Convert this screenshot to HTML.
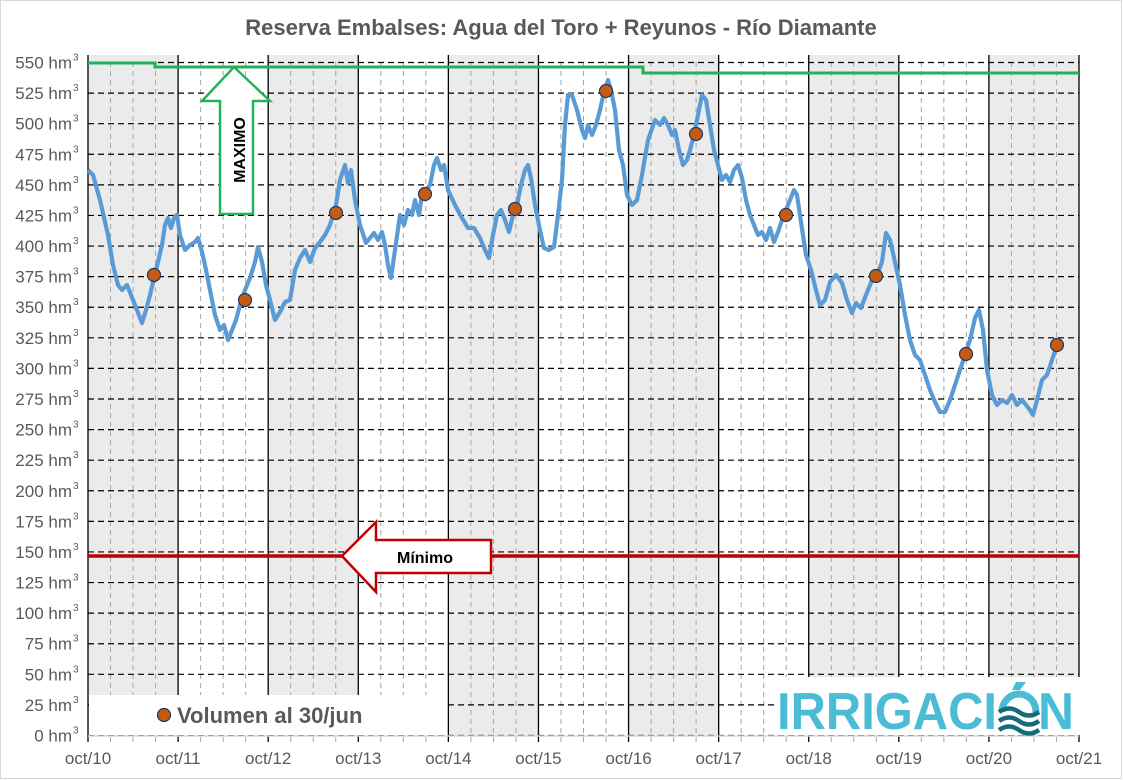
<!DOCTYPE html>
<html><head><meta charset="utf-8"><style>
body{margin:0;background:#fff}
svg{display:block;font-family:"Liberation Sans",sans-serif}
</style></head><body>
<svg width="1123" height="780" viewBox="0 0 1123 780" xmlns="http://www.w3.org/2000/svg">
<rect x="0.5" y="0.5" width="1121" height="778" fill="#fff" stroke="#d9d9d9"/>
<text x="561" y="35" text-anchor="middle" font-size="22" font-weight="bold" fill="#595959">Reserva Embalses: Agua del Toro + Reyunos - Río Diamante</text>
<g fill="#ebebeb">
<rect x="88" y="55" width="90" height="681"/>
<rect x="268" y="55" width="90" height="681"/>
<rect x="448" y="55" width="90" height="681"/>
<rect x="628" y="55" width="90" height="681"/>
<rect x="808" y="55" width="90" height="681"/>
<rect x="988" y="55" width="91" height="681"/>
</g>
<g id="grid"></g>
<script>
(function(){
var ns="http://www.w3.org/2000/svg",g=document.getElementById('grid');
function ln(x1,y1,x2,y2,st,w,da){var l=document.createElementNS(ns,'line');l.setAttribute('x1',x1);l.setAttribute('y1',y1);l.setAttribute('x2',x2);l.setAttribute('y2',y2);l.setAttribute('stroke',st);l.setAttribute('stroke-width',w);if(da)l.setAttribute('stroke-dasharray',da);g.appendChild(l);}
var step=991/11;
for(var i=0;i<11;i++){for(var k=1;k<4;k++){var x=88+step*i+step*k/4;ln(x,62,x,742,'#a6a6a6',1,'5,4');}}
for(var j=0;j<=22;j++){var y=735.5-j*673/22;ln(88,y,1079,y,'#000',1.2,'6,4');
var t=document.createElementNS(ns,'text');t.setAttribute('x',72);t.setAttribute('y',y+6);t.setAttribute('text-anchor','end');t.setAttribute('font-size','17');t.setAttribute('fill','#595959');t.textContent=(j*25)+' hm';g.appendChild(t);
var s=document.createElementNS(ns,'text');s.setAttribute('x',73);s.setAttribute('y',y-2);s.setAttribute('font-size','10');s.setAttribute('fill','#595959');s.textContent='3';g.appendChild(s);}
for(var i=0;i<=11;i++){var x=88+step*i;ln(x,55,x,742,'#000',1.3);
var t=document.createElementNS(ns,'text');t.setAttribute('x',x);t.setAttribute('y',764);t.setAttribute('text-anchor','middle');t.setAttribute('font-size','17');t.setAttribute('fill','#595959');t.textContent='oct/'+(10+i);g.appendChild(t);}
ln(88,736,1079,736,'#d9d9d9',1.5);
})();
</script>
<polyline fill="none" stroke="#22b35a" stroke-width="3" points="88,63 155,63 155,67 643,67 643,73 1079,73"/>
<line x1="88" y1="556" x2="1079" y2="556" stroke="#c00000" stroke-width="3.5"/>
<polygon points="234,67 270,101 253,101 253,214 220,214 220,101 202,101" fill="#fff" stroke="#22b35a" stroke-width="2.5"/>
<text transform="translate(245,150) rotate(-90)" text-anchor="middle" font-size="16" font-weight="bold" fill="#000">MAXIMO</text>
<polygon points="342,556 376,522 376,540 491,540 491,573 376,573 376,592" fill="#fff" stroke="#c00000" stroke-width="2.5"/>
<text x="425" y="563" text-anchor="middle" font-size="16" font-weight="bold" fill="#000">Mínimo</text>
<polyline fill="none" stroke="#5b9bd5" stroke-width="4.2" stroke-linejoin="round" points="88,170 93,175 100,200 108,235 113,265 118,285 122,290 127,285 131,295 137,310 142,323 146,310 150,295 154,278 158,262 162,245 165,225 168,218 171,228 174,218 177,215 180,235 185,250 190,245 195,242 198,238 201,248 205,265 210,290 215,315 220,330 224,325 228,340 232,330 236,320 240,305 245,290 250,278 255,262 258,247 262,262 266,285 270,300 275,320 280,312 285,302 290,300 295,270 300,258 305,250 310,262 315,248 320,242 325,235 330,225 333,215 336,205 340,180 345,165 348,183 351,170 355,200 360,225 366,243 370,238 374,233 378,240 382,232 385,245 388,265 391,278 395,250 400,215 404,225 408,210 412,215 415,200 419,215 422,195 426,190 430,185 434,165 437,158 441,170 444,165 448,190 455,205 462,218 468,228 474,228 480,238 485,250 489,258 493,235 497,215 501,210 505,220 509,232 513,215 517,205 521,185 525,170 528,165 531,178 535,205 540,230 544,248 549,250 554,247 558,215 562,180 565,125 568,95 572,95 577,110 582,130 585,138 588,125 592,135 596,125 600,110 604,92 608,80 611,90 615,110 619,150 623,165 627,195 632,205 637,200 642,175 648,140 655,120 660,125 664,118 668,125 672,135 675,130 679,150 683,165 687,160 690,150 694,135 698,115 702,95 706,100 710,125 714,150 718,165 722,180 726,175 730,182 734,170 738,165 742,178 746,200 750,215 754,225 758,235 762,232 766,240 770,228 774,242 778,232 782,220 785,212 790,200 794,190 797,195 801,222 806,255 811,270 816,290 820,305 825,300 830,282 836,275 842,283 847,300 852,313 856,303 861,308 866,295 872,280 877,275 882,262 886,233 890,240 895,262 900,285 905,315 910,340 915,355 920,360 925,375 930,390 935,402 940,412 945,412 950,400 955,385 960,370 965,355 970,340 975,318 979,310 983,330 987,370 992,395 997,405 1002,400 1007,403 1012,395 1017,405 1022,400 1026,405 1030,410 1033,415 1037,400 1042,380 1047,375 1052,360 1057,345"/>
<g fill="#c55a11" stroke="#1f3864" stroke-width="1.2">
<circle cx="154" cy="275" r="6.5"/><circle cx="245" cy="300" r="6.5"/><circle cx="336" cy="213" r="6.5"/><circle cx="425" cy="194" r="6.5"/><circle cx="515" cy="209" r="6.5"/><circle cx="606" cy="91" r="6.5"/><circle cx="696" cy="134" r="6.5"/><circle cx="786" cy="215" r="6.5"/><circle cx="876" cy="276" r="6.5"/><circle cx="966" cy="354" r="6.5"/><circle cx="1057" cy="345" r="6.5"/>
</g>
<rect x="89" y="695" width="358" height="40" fill="#fff"/>
<circle cx="164" cy="715" r="6.5" fill="#c55a11" stroke="#1f3864" stroke-width="1.2"/>
<text x="177" y="723" font-size="22" font-weight="bold" fill="#595959">Volumen al 30/jun</text>
<rect x="776" y="677" width="304" height="58" fill="#fff"/>
<text x="777" y="729" font-size="52" font-weight="bold" fill="#4bbcd6" textLength="220" lengthAdjust="spacingAndGlyphs">IRRIGACI</text>
<path d="M1002,712 a17,18 0 0 1 34,0" fill="none" stroke="#4bbcd6" stroke-width="7"/>
<g fill="none" stroke="#176b78" stroke-width="4.5">
<path d="M999,712 q10,-7 20,0 t20,0"/><path d="M999,721 q10,-7 20,0 t20,0"/><path d="M999,730 q10,-7 20,0 t20,0"/>
</g>
<polygon points="1016,682 1026,682 1020,690 1012,690" fill="#4bbcd6"/>
<text x="1038" y="729" font-size="52" font-weight="bold" fill="#4bbcd6" textLength="36" lengthAdjust="spacingAndGlyphs">N</text>
</svg>
</body></html>
